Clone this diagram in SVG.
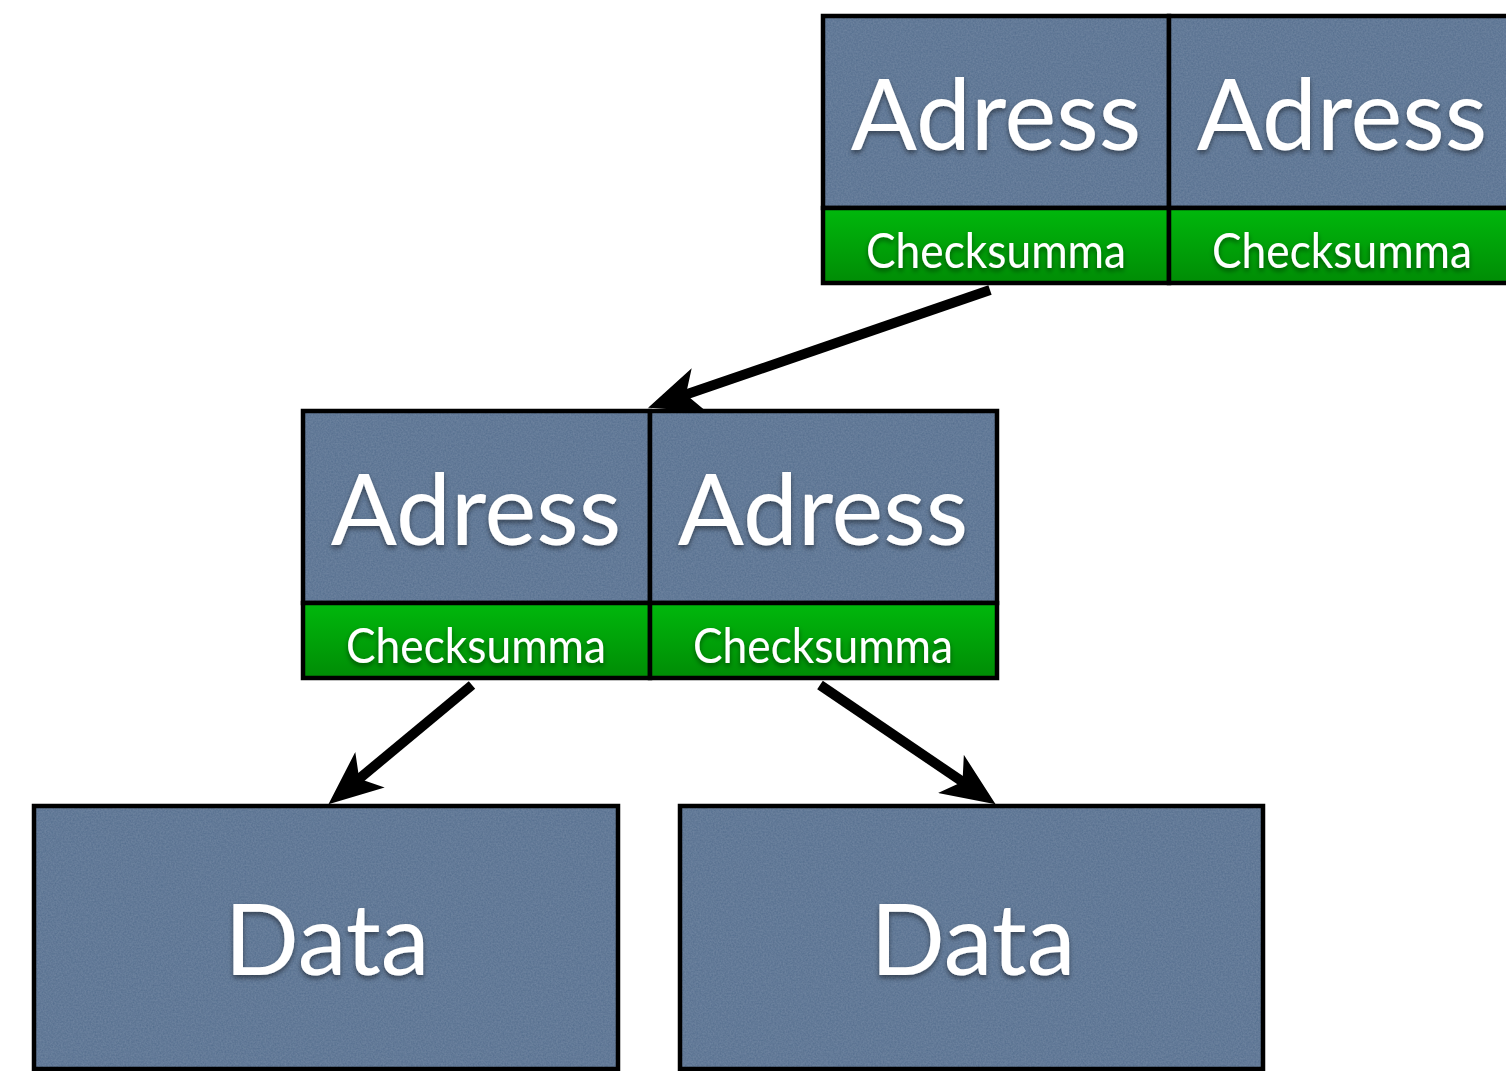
<svg xmlns="http://www.w3.org/2000/svg" width="1506" height="1071" viewBox="0 0 1506 1071">
  <style>
    .blue { fill: #526d8d; filter: url(#tex); }
    .frame { fill: none; stroke: #000; stroke-width: 4.5; }
    .green { fill: url(#gg); stroke: #000; stroke-width: 4.5; }
    .big { font-family: Lato, "Open Sans", sans-serif; font-size: 98px; fill: #fff; text-anchor: middle; filter: url(#sh); }
    .small { font-family: Lato, "Open Sans", sans-serif; font-size: 48px; fill: #fff; text-anchor: middle; filter: url(#sh); }
    .conn { stroke: #000; stroke-width: 10; fill: none; marker-end: url(#ah); }
  </style>
  <defs>
    <linearGradient id="gg" x1="0" y1="0" x2="0" y2="1">
      <stop offset="0" stop-color="#00b80c"/>
      <stop offset="1" stop-color="#008c05"/>
    </linearGradient>
    <filter id="sh" x="-10%" y="-20%" width="120%" height="150%">
      <feDropShadow dx="0" dy="3" stdDeviation="2.5" flood-color="#000" flood-opacity="0.45"/>
    </filter>
    <filter id="tex" x="0" y="0" width="1" height="1">
      <feTurbulence type="fractalNoise" baseFrequency="0.6" numOctaves="2" seed="3" result="n"/>
      <feColorMatrix in="n" type="matrix" values="0 0 0 0 0.45  0 0 0 0 0.55  0 0 0 0 0.7  0 0 0 0.22 0" result="nc"/>
      <feComposite in="nc" in2="SourceGraphic" operator="in" result="ni"/>
      <feMerge><feMergeNode in="SourceGraphic"/><feMergeNode in="ni"/></feMerge>
    </filter>
    <marker id="ah" markerUnits="userSpaceOnUse" viewBox="0 0 54 46" refX="17" refY="23" markerWidth="54" markerHeight="46" orient="auto">
      <path d="M0,0 L54,23 L0,46 L14,23 Z" fill="#000"/>
    </marker>
  </defs>

  <g id="connectors">
    <path class="conn" d="M990,290 L683.1,395.6"/>
    <path class="conn" d="M472,685 L356.9,780.6"/>
    <path class="conn" d="M820,685 L965,783.4"/>
  </g>

  <g id="top-cell-1">
    <rect class="blue" x="823" y="16" width="346" height="192"/>
    <rect class="frame" x="823" y="16" width="346" height="192"/>
    <rect class="green" x="823" y="208" width="346" height="75"/>
    <text class="big" x="996" y="150">Adress</text>
    <text class="small" x="996" y="268" textLength="260" lengthAdjust="spacingAndGlyphs">Checksumma</text>
  </g>
  <g id="top-cell-2">
    <rect class="blue" x="1169" y="16" width="346" height="192"/>
    <rect class="frame" x="1169" y="16" width="346" height="192"/>
    <rect class="green" x="1169" y="208" width="346" height="75"/>
    <text class="big" x="1342" y="150">Adress</text>
    <text class="small" x="1342" y="268" textLength="260" lengthAdjust="spacingAndGlyphs">Checksumma</text>
  </g>

  <g id="mid-cell-1">
    <rect class="blue" x="303" y="411" width="347" height="192"/>
    <rect class="frame" x="303" y="411" width="347" height="192"/>
    <rect class="green" x="303" y="603" width="347" height="75"/>
    <text class="big" x="476" y="545">Adress</text>
    <text class="small" x="476" y="663" textLength="260" lengthAdjust="spacingAndGlyphs">Checksumma</text>
  </g>
  <g id="mid-cell-2">
    <rect class="blue" x="650" y="411" width="347" height="192"/>
    <rect class="frame" x="650" y="411" width="347" height="192"/>
    <rect class="green" x="650" y="603" width="347" height="75"/>
    <text class="big" x="823" y="545">Adress</text>
    <text class="small" x="823" y="663" textLength="260" lengthAdjust="spacingAndGlyphs">Checksumma</text>
  </g>

  <g id="data-1">
    <rect class="blue" x="34" y="806" width="584" height="263"/>
    <rect class="frame" x="34" y="806" width="584" height="263"/>
    <text class="big" x="327" y="975">Data</text>
  </g>
  <g id="data-2">
    <rect class="blue" x="680" y="806" width="583" height="263"/>
    <rect class="frame" x="680" y="806" width="583" height="263"/>
    <text class="big" x="973" y="975">Data</text>
  </g>
</svg>
